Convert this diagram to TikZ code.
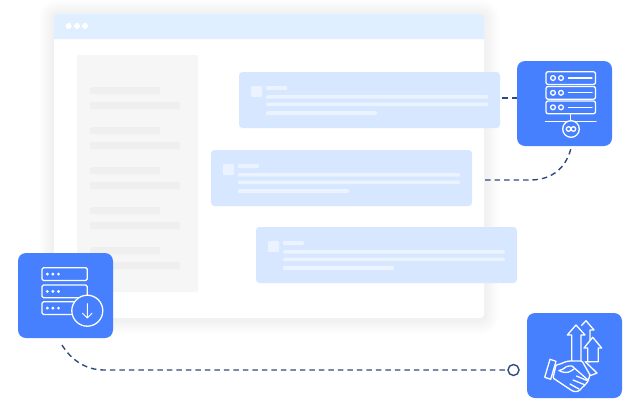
\documentclass[tikz,border=0pt]{standalone}
\tikzset{
  box/.style={fill=#1,rounded corners=3.5pt,inner sep=0pt,outer sep=0pt,draw=none,anchor=north west},
  tile/.style={fill=tileblue,rounded corners=8pt,inner sep=0pt,outer sep=0pt,draw=none,anchor=north west,minimum width=95pt,minimum height=85pt},
  link/.style={draw=navy,line width=1.4pt,dash pattern=on 5.5pt off 4pt},
  glyph/.style={draw=white,line width=1.3pt,line join=round,line cap=round},
}
\definecolor{tileblue}{HTML}{4680FF}
\definecolor{navy}{HTML}{2F4A7C}
\definecolor{cardblue}{HTML}{D6E7FF}
\definecolor{cardbar}{HTML}{EAF3FF}
\definecolor{headblue}{HTML}{DFEFFF}
\definecolor{sidegray}{HTML}{F6F6F6}
\definecolor{sidebar}{HTML}{EFEFEF}
\newcommand{\chatcard}[3]{%
  \node[box=cardblue,minimum width=261pt,minimum height=56pt] (#3) at (#1,#2) {};
  \begin{scope}[shift={(#1,#2)}]
    \fill[cardbar,rounded corners=1pt] (12,14) rectangle (23,25);
    \fill[cardbar,rounded corners=1pt] (27,14) rectangle (48,18);
    \fill[cardbar,rounded corners=1pt] (27,23) rectangle (249,26.5);
    \fill[cardbar,rounded corners=1pt] (27,30.5) rectangle (249,34);
    \fill[cardbar,rounded corners=1pt] (27,39) rectangle (138,43);
  \end{scope}}
\newcommand{\sidepair}[1]{%
  \fill[sidebar,rounded corners=1pt] (90,#1) rectangle (160,#1+7);
  \fill[sidebar,rounded corners=1pt] (90,#1+15) rectangle (180,#1+22);}
\begin{document}
\begin{tikzpicture}[x=1pt,y=-1pt]
\useasboundingbox (0,0) rectangle (635,405);
% window shadow
\foreach \g in {15,14,...,0}{
  \fill[black,opacity=0.0045,rounded corners=\g+3pt] (54-\g,14-\g+1) rectangle (484+\g,318+\g+1);
}
\node[box=white,minimum width=430pt,minimum height=304pt] (win) at (54,14) {};
\fill[headblue] (54,39) {[rounded corners=3.5pt] -- (54,14) -- (484,14)} -- (484,39) -- cycle;
\node[circle,fill=white,minimum size=6pt,inner sep=0pt] (d1) at (68.7,26) {};
\node[circle,fill=white,minimum size=6pt,inner sep=0pt] (d2) at (77,26) {};
\node[circle,fill=white,minimum size=6pt,inner sep=0pt] (d3) at (85,26) {};
% sidebar
\node[box=sidegray,rounded corners=1.5pt,minimum width=121pt,minimum height=237pt] (side) at (77,55) {};
\sidepair{87}\sidepair{127}\sidepair{167}\sidepair{207}\sidepair{247}
% cards
\chatcard{239}{72}{card1}
\chatcard{211}{150}{card2}
\chatcard{256}{227}{card3}
% tiles
\node[tile] (srv) at (517,61) {};
\node[tile] (dl) at (18,253) {};
\node[tile] (deal) at (527,313) {};
% connectors
\coordinate (c2s) at (485,180);
\coordinate (c3s) at (62,345);
\node[circle,draw=navy,line width=1.4pt,fill=white,minimum size=11pt,inner sep=0pt] (end) at (513.5,370) {};
\draw[link] ([xshift=2pt,yshift=2pt]card1.east) -- ([yshift=5.5pt]srv.west);
\draw[link] (c2s) -- (530,180) .. controls (553,180) and (567,167) .. ([xshift=7pt]srv.south);
\draw[link] (c3s) .. controls (70,358) and (84,370) .. (104,370) -- (end.west);
% server icon
\foreach \y in {71.7,86.5,101}{
  \draw[glyph,rounded corners=2pt] (546,\y) rectangle (595.5,\y+12.7);
  \draw[glyph] (553,\y+6.3) circle (2.4);
  \draw[glyph] (561,\y+6.3) circle (2.4);
  \draw[glyph] (568.5,\y+6.3) -- (592,\y+6.3);
}
\draw[glyph] (570.5,113.7) -- (570.5,120.5);
\draw[glyph] (545.5,121.5) -- (596,121.5);
\draw[glyph,fill=tileblue] (571,129) circle (8.3);
\draw[glyph] (568.6,129) circle (2.3);
\draw[glyph] (573.4,129) circle (2.3);
% download icon
\foreach \y in {267.7,285,301.7}{
  \draw[glyph,rounded corners=1.5pt] (42,\y) rectangle (87.3,\y+12.8);
  \fill[white] (47.3,\y+6.4) circle (1.6);
  \fill[white] (52.9,\y+6.4) circle (1.6);
  \fill[white] (58.5,\y+6.4) circle (1.6);
}
\draw[glyph,fill=tileblue] (87.3,310.7) circle (15.5);
\draw[draw=white,line width=0.9pt,line cap=round,line join=round] (87.3,303.5) -- (87.3,318) (82.5,313.2) -- (87.3,318) -- (92.1,313.2);
% deal icon: arrows
\draw[glyph] (586,361.7) -- (590,361.7) -- (590,330) -- (594,330) -- (586,320.7) -- (581.5,325.5);
\draw[glyph,fill=tileblue] (571.7,361.7) -- (571.7,335) -- (567.3,335) -- (576,325) -- (585,335) -- (581,335) -- (581,361.7);
\draw[glyph,fill=tileblue] (587.7,361.7) -- (587.7,348) -- (584,348) -- (592.7,337.3) -- (601.7,348) -- (598.3,348) -- (598.3,361.7) -- cycle;
% deal icon: hands
\draw[glyph,fill=tileblue] (585,361.5) -- (597,373) -- (590.7,375.5) -- (581,364);
\draw[glyph,fill=tileblue,rounded corners=1pt] (556,365) .. controls (562,364) and (565,361) .. (571,361) -- (582,361) -- (590,375) -- (588,381) .. controls (586,385) and (583,386) .. (581,389) .. controls (578,392) and (574,392) .. (571,390) -- (553,378) -- cycle;
\draw[glyph] (559,370.5) .. controls (564,370) and (565,366) .. (569,366) -- (572,366) -- (588,380);
\draw[glyph] (559,370.5) .. controls (563,373) and (568,373) .. (571,371) -- (574,369);
\draw[glyph] (573,380) -- (584,384.5) (576.5,376) -- (587,380.5) (570,384) -- (579,389);
\draw[glyph,fill=tileblue] (550,359.3) -- (556,361.3) -- (550.7,379.3) -- (544.7,377.3) -- cycle;
\end{tikzpicture}
\end{document}
